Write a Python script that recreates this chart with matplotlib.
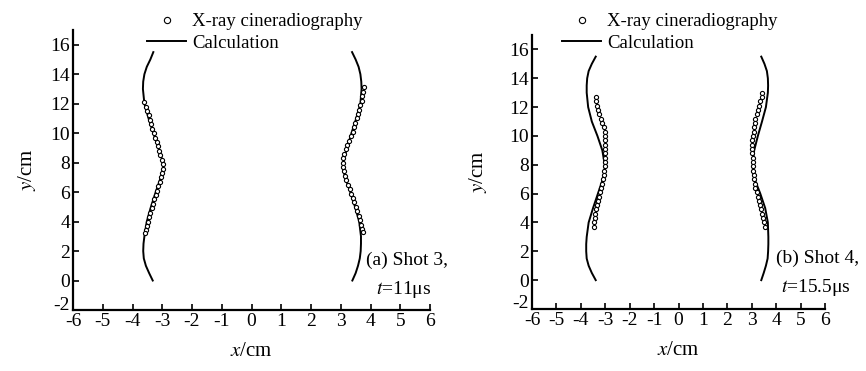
import matplotlib
matplotlib.use("Agg")
import matplotlib.pyplot as plt
from matplotlib.transforms import ScaledTranslation

plt.rcParams["font.family"] = ["Liberation Serif", "DejaVu Serif"]
plt.rcParams["mathtext.fontset"] = "stix"
plt.rcParams["axes.unicode_minus"] = False

# (a) Shot 3, t = 11 us
calc_y = [15.5, 15.0, 14.5, 14.0, 13.5, 13.0, 12.0, 11.0, 10.0, 9.0, 8.0, 7.5,
          7.0, 6.0, 5.0, 4.0, 3.0, 2.5, 2.0, 1.5, 1.0, 0.5, 0.0]
a_calc_left = [-3.30, -3.40, -3.52, -3.60, -3.64, -3.65, -3.60, -3.46, -3.30, -3.13,
               -2.97, -2.96, -3.05, -3.22, -3.38, -3.52, -3.60, -3.63, -3.64, -3.62,
               -3.55, -3.44, -3.32]
a_calc_right = [3.38, 3.50, 3.60, 3.66, 3.69, 3.70, 3.66, 3.52, 3.36, 3.21, 3.08,
                3.08, 3.15, 3.32, 3.48, 3.62, 3.68, 3.68, 3.67, 3.64, 3.58, 3.50, 3.39]

a_pts_left_y = [12.1, 11.8, 11.5, 11.2, 10.9, 10.6, 10.3, 10.0, 9.7, 9.4, 9.1, 8.8,
                8.5, 8.2, 7.9, 7.6, 7.3, 7.0, 6.7, 6.4, 6.1, 5.8, 5.5, 5.2, 4.9,
                4.6, 4.3, 4.0, 3.7, 3.4, 3.2]
a_pts_left_x = [-3.60, -3.55, -3.51, -3.46, -3.42, -3.37, -3.33, -3.28, -3.24, -3.19,
                -3.15, -3.10, -3.06, -3.01, -2.97, -2.97, -3.00, -3.04, -3.09, -3.13,
                -3.18, -3.22, -3.27, -3.31, -3.35, -3.40, -3.44, -3.48, -3.52, -3.55,
                -3.57]
a_pts_right_y = [13.1, 12.8, 12.5, 12.2, 11.9, 11.6, 11.3, 11.0, 10.7, 10.4, 10.1,
                 9.8, 9.5, 9.2, 8.9, 8.6, 8.3, 8.0, 7.7, 7.4, 7.1, 6.8, 6.5, 6.2,
                 5.9, 5.6, 5.3, 5.0, 4.7, 4.4, 4.1, 3.8, 3.5, 3.3]
a_pts_right_x = [3.78, 3.76, 3.73, 3.70, 3.66, 3.62, 3.58, 3.54, 3.49, 3.45, 3.40,
                 3.34, 3.28, 3.22, 3.16, 3.11, 3.08, 3.07, 3.08, 3.11, 3.14, 3.18,
                 3.24, 3.30, 3.36, 3.41, 3.46, 3.50, 3.55, 3.60, 3.64, 3.68, 3.72, 3.74]

# (b) Shot 4, t = 15.5 us
b_calc_left = [-3.39, -3.55, -3.68, -3.74, -3.76, -3.76, -3.70, -3.55, -3.32, -3.12,
               -3.02, -3.03, -3.10, -3.30, -3.50, -3.68, -3.76, -3.78, -3.78, -3.76,
               -3.68, -3.55, -3.39]
b_calc_right = [3.39, 3.52, 3.62, 3.66, 3.67, 3.66, 3.58, 3.42, 3.25, 3.10, 3.04,
                3.05, 3.12, 3.35, 3.55, 3.66, 3.68, 3.68, 3.67, 3.65, 3.58, 3.49, 3.39]

b_pts_left_y = [12.7, 12.4, 12.1, 11.8, 11.5, 11.2, 10.9, 10.6, 10.3, 10.0, 9.7, 9.4,
                9.1, 8.8, 8.5, 8.2, 7.9, 7.6, 7.3, 7.0, 6.7, 6.4, 6.1, 5.8, 5.5,
                5.2, 4.9, 4.6, 4.3, 4.0, 3.7]
b_pts_left_x = [-3.37, -3.36, -3.34, -3.30, -3.25, -3.18, -3.12, -3.06, -3.03, -3.02,
                -3.01, -3.01, -3.01, -3.02, -3.02, -3.02, -3.02, -3.04, -3.06, -3.10,
                -3.14, -3.18, -3.23, -3.27, -3.31, -3.35, -3.38, -3.40, -3.43, -3.45,
                -3.47]
b_pts_right_y = [13.0, 12.7, 12.4, 12.1, 11.8, 11.5, 11.2, 10.9, 10.6, 10.3, 10.0,
                 9.7, 9.4, 9.1, 8.8, 8.5, 8.2, 7.9, 7.6, 7.3, 7.0, 6.7, 6.4, 6.1,
                 5.8, 5.5, 5.2, 4.9, 4.6, 4.3, 4.0, 3.7]
b_pts_right_x = [3.43, 3.40, 3.35, 3.30, 3.25, 3.20, 3.15, 3.12, 3.10, 3.08, 3.05,
                 3.03, 3.02, 3.02, 3.03, 3.04, 3.05, 3.05, 3.06, 3.08, 3.10, 3.12,
                 3.15, 3.20, 3.25, 3.30, 3.33, 3.37, 3.40, 3.45, 3.50, 3.55]

x_ticks = [-6, -5, -4, -3, -2, -1, 0, 1, 2, 3, 4, 5, 6]
y_ticks = [-2, 0, 2, 4, 6, 8, 10, 12, 14, 16]

W, H = 866, 371
fig = plt.figure(figsize=(W / 100, H / 100), dpi=100)
ax1 = fig.add_axes([73 / W, 1 - 310 / H, 357 / W, 280 / H])
ax2 = fig.add_axes([532 / W, 1 - 309 / H, 293 / W, 274 / H])

panels = [
    (ax1, 9, a_calc_left, a_calc_right, a_pts_left_x, a_pts_left_y, a_pts_right_x, a_pts_right_y),
    (ax2, 15, b_calc_left, b_calc_right, b_pts_left_x, b_pts_left_y, b_pts_right_x, b_pts_right_y),
]
for ax, ypad, cl, cr, plx, ply, prx, pry in panels:
    ax.plot(plx, ply, "o", ms=3.0, mfc="white", mec="black", mew=0.8,
            label="X-ray cineradiography", zorder=3)
    ax.plot(prx, pry, "o", ms=3.0, mfc="white", mec="black", mew=0.8, zorder=3)
    ax.plot(cl, calc_y, "-", color="black", lw=1.4, label="Calculation", zorder=2)
    ax.plot(cr, calc_y, "-", color="black", lw=1.4, zorder=2)
    ax.set_xlim(-6, 6)
    ax.set_ylim(-2, 17)
    ax.set_xticks(x_ticks)
    ax.set_yticks(y_ticks)
    for s in ["top", "right"]:
        ax.spines[s].set_visible(False)
    for s in ["left", "bottom"]:
        ax.spines[s].set_linewidth(1.6)
    ax.tick_params(direction="in", length=4, width=1.2, labelsize=14, pad=2)
    ax.set_xlabel("$x$/cm", fontsize=15, labelpad=9)
    ax.set_ylabel("$y$/cm", fontsize=15, labelpad=ypad)
    # the -2 label sits a little above the x axis, as in the original
    lab = ax.get_yticklabels()[0]
    lab.set_transform(lab.get_transform() + ScaledTranslation(0, 7 / 100, fig.dpi_scale_trans))

leg_kw = dict(bbox_transform=fig.transFigure, frameon=False, fontsize=13.5,
              borderpad=0, borderaxespad=0, handlelength=2.1, handletextpad=0.3,
              labelspacing=0.25, loc="upper left", markerscale=1.5)
ax1.legend(bbox_to_anchor=(147 / W, 1 - 13 / H), **leg_kw)
ax2.legend(bbox_to_anchor=(562 / W, 1 - 13 / H), **leg_kw)

fig.text(366 / W, 1 - 260 / H, "(a) Shot 3,", fontsize=14, ha="left", va="center")
fig.text(431 / W, 1 - 289 / H, "$t$=11μs", fontsize=14, ha="right", va="center")
fig.text(776 / W, 1 - 258 / H, "(b) Shot 4,", fontsize=14, ha="left", va="center")
fig.text(851 / W, 1 - 287 / H, "$t$=15.5μs", fontsize=14, ha="right", va="center")

fig.savefig("out.png", dpi=100)
